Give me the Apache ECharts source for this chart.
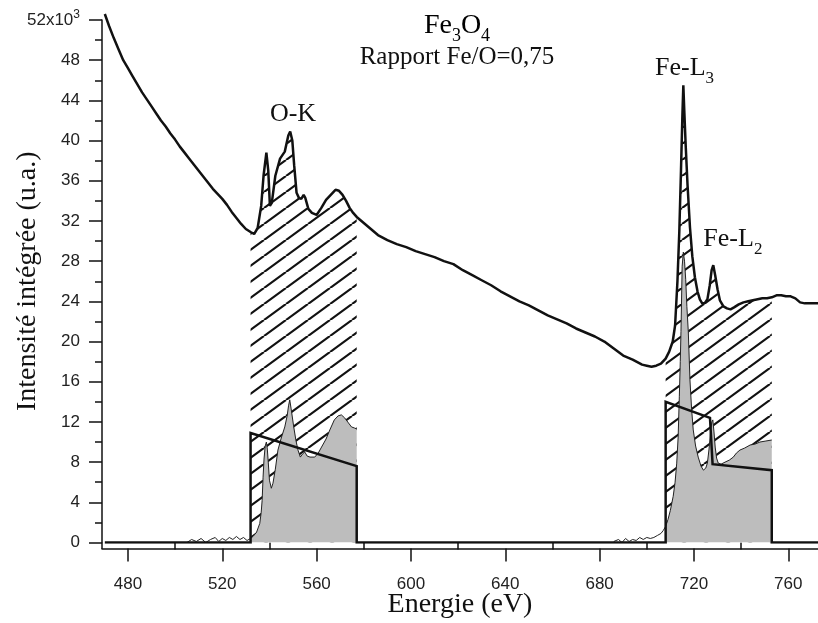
<!DOCTYPE html>
<html>
<head>
<meta charset="utf-8">
<script src="https://cdn.jsdelivr.net/npm/echarts@6/dist/echarts.min.js"></script>
<style>html,body{margin:0;padding:0;background:#fff}#chart{width:818px;height:623px}</style>
</head>
<body>
<div id="chart"></div>
<script>
// ---------------- data ----------------
const energyMin = 469, energyMax = 772.6;
const intensityMax = 52;
const xMajorTicks = [480, 520, 560, 600, 640, 680, 720, 760];
const xMinorTicks = [500, 540, 580, 620, 660, 700, 740];

// raw spectrum [energy eV, intensity x1e3]
const spectrum = [
  [470.2,52.6],[472,51.4],[474,50.2],[476,49.1],[478,48.0],[480,47.2],[482,46.4],[484,45.6],[486,44.8],[488,44.1],
  [490,43.4],[492,42.7],[494,42.0],[496,41.4],[498,40.7],[500,40.1],[502,39.4],[504,38.8],[506,38.2],[508,37.6],
  [510,37.0],[512,36.4],[514,35.8],[516,35.2],[518,34.7],[520,34.2],[522,33.6],[524,32.9],[526,32.3],[528,31.7],
  [530,31.2],[532,30.9],[533.5,30.7],[535,31.3],[536.5,33.5],[537.5,36.5],[538.7,38.8],[539.5,37.0],[540.2,33.5],
  [541,33.8],[542.5,36.5],[544.5,38.2],[546.5,38.9],[548,40.5],[548.8,40.9],[549.7,40.0],[550.5,37.5],[551.5,34.8],
  [552.5,34.3],[553.5,34.2],[554.5,34.6],[555.2,34.3],[556.5,33.2],[558,32.8],[560,32.6],[562,33.3],[564,34.1],
  [566,34.6],[568,35.1],[569.5,35.0],[571,34.6],[572.5,34.0],[574,33.3],[575.5,32.8],[577,32.4],[579,32.0],
  [582,31.4],[586,30.6],[590,30.1],[594,29.7],[598,29.4],[602,29.0],[606,28.7],[610,28.4],[614,28.0],[618,27.7],
  [622,27.1],[626,26.6],[630,26.1],[634,25.6],[638,25.0],[642,24.5],[646,24.0],[650,23.6],[654,23.1],[658,22.6],
  [662,22.2],[666,21.8],[670,21.3],[674,20.9],[678,20.5],[682,20.0],[686,19.3],[690,18.6],[694,18.2],[698,17.7],
  [700,17.6],[702,17.5],[704,17.6],[706,17.8],[708,18.3],[709.5,19.0],[711,20.0],[712,21.6],[713,26.0],[713.8,31.0],
  [714.5,37.0],[715.1,42.5],[715.5,45.5],[715.9,43.0],[716.5,39.5],[717.3,35.5],[718.3,31.4],[719.3,28.5],[720.4,26.4],
  [721.5,25.0],[722.5,24.2],[723.5,23.8],[724.5,23.8],[725.7,24.2],[726.7,25.6],[727.5,27.1],[728.2,27.6],[729,26.6],
  [730,25.2],[731,24.1],[732.5,23.5],[734,23.3],[735.5,23.2],[737,23.4],[739,23.7],[741,23.9],[743,24.0],[745,24.1],
  [747,24.2],[749,24.3],[751,24.3],[753,24.4],[755,24.6],[757,24.6],[759,24.5],[761,24.5],[763,24.3],[765,23.9],
  [767,23.8],[769,23.8],[771,23.8],[772.6,23.8]
];

// background-subtracted O-K signal
const signalO = [
  [505,0.0],[507,0.3],[509,0.1],[511,0.4],[513,0.0],[515,0.3],[517,0.5],[518.5,0.1],[520,0.4],[521.5,0.2],
  [523,0.5],[524.5,0.3],[526,0.6],[527.5,0.3],[529,0.5],[530.5,0.2],[532,0.4],[533,0.6],[534.5,1.0],[535.9,1.9],
  [536.5,3.0],[536.9,4.2],[537.3,6.5],[537.7,8.3],[538.2,9.6],[538.7,10.0],[539.1,9.3],[539.5,8.0],[540,6.2],
  [540.8,5.4],[541.5,5.9],[542.5,7.3],[543.6,9.2],[545,10.4],[546.5,11.5],[547.5,12.6],[548.1,13.6],[548.6,14.2],
  [549.2,13.3],[550.3,11.5],[551.2,10.2],[552.1,9.2],[553.1,8.5],[554,8.8],[555,9.0],[556,8.6],[557.2,8.5],
  [559.2,8.5],[560.7,8.9],[562.1,9.5],[564,10.3],[565.6,11.2],[567.5,12.2],[569.1,12.6],[570.5,12.7],[571.9,12.4],
  [573.5,11.9],[574.8,11.5],[576,11.4],[577,11.3]
];

// background-subtracted Fe-L2,3 signal
const signalFe = [
  [686,0.1],[688,0.3],[689.5,0.0],[691,0.4],[692.5,0.1],[694,0.3],[695.5,0.2],[697,0.5],[698.5,0.3],[700,0.5],
  [701.5,0.4],[703,0.5],[704.5,0.7],[706,0.9],[707,1.2],[708,1.6],[709,2.3],[710,3.2],[711.2,4.6],[712,6.0],
  [712.7,7.9],[713.3,10.5],[713.8,14.5],[714.2,18.0],[714.5,21.0],[715,27.5],[715.5,28.9],[716,28.0],[716.5,26.2],
  [717,23.5],[717.6,21.0],[718.3,16.2],[719,13.3],[719.7,11.2],[720.7,9.6],[721.8,8.5],[723,7.6],[724,7.2],
  [725,7.4],[725.7,7.9],[726.4,9.3],[727.1,11.2],[727.6,12.0],[728,12.2],[728.5,11.0],[729,9.5],[729.6,8.4],
  [730.3,7.9],[731.5,7.8],[733.2,8.0],[735,8.2],[736.7,8.5],[738,8.9],[739.5,9.2],[741.5,9.4],[743.8,9.7],
  [746,9.8],[748,10.0],[750.5,10.1],[753,10.2]
];

// step model (thick black line)
const stepModel = [
  [470.2,0],[532,0],[532,10.9],[577,7.6],[577,0],[708,0],[708,14.0],[726.8,12.4],[727.9,7.8],[753,7.2],[753,0],[772.6,0]
];

const windowO = [532, 577];
const windowFe = [708, 753];

const annotations = [
  { text: '{m|O-K}', x: 550, y: 42.6 },
  { text: '{m|Fe-L}{s|3}', x: 716, y: 47.2 },
  { text: '{m|Fe-L}{s|2}', x: 736.5, y: 30.2 }
];

// ---------------- drawing ----------------
function inWindow(arr, w) { return arr.filter(p => p[0] >= w[0] && p[0] <= w[1]); }

function hatchCanvas() {
  const w = 22, h = 16;
  const c = document.createElement('canvas');
  c.width = w; c.height = h;
  const ctx = c.getContext('2d');
  ctx.fillStyle = '#fff';
  ctx.fillRect(0, 0, w, h);
  ctx.strokeStyle = '#111';
  ctx.lineWidth = 2.2;
  ctx.beginPath();
  for (const dx of [-w, 0, w]) { ctx.moveTo(dx, h); ctx.lineTo(dx + w, 0); }
  ctx.stroke();
  return c;
}
const hatch = { image: hatchCanvas(), repeat: 'repeat' };

const serif = "'Liberation Serif', 'Times New Roman', serif";
const sans = "'Liberation Sans', Arial, sans-serif";
const ink = '#111';
const gray = '#bdbdbd';

const chart = echarts.init(document.getElementById('chart'), null, { renderer: 'canvas' });

const subRich = (size) => ({
  m: { fontFamily: serif, fontSize: size, color: ink, opacity: 1, lineHeight: size + 2, verticalAlign: 'middle' },
  s: { fontFamily: serif, fontSize: Math.round(size * 0.65), color: ink, opacity: 1, lineHeight: Math.round(size * 0.65), padding: [20, 0, 0, 0], verticalAlign: 'middle' }
});

const option = {
  animation: false,
  backgroundColor: '#fff',
  grid: { left: 102, right: 0, top: 20, bottom: 80.5, containLabel: false, outerBoundsMode: 'none' },
  xAxis: [{
    type: 'value', min: energyMin, max: energyMax, position: 'bottom', offset: 6,
    axisLine: { show: true, onZero: false, lineStyle: { color: ink, width: 1.5 } },
    axisTick: { show: true, length: 13, customValues: xMajorTicks, lineStyle: { color: ink, width: 1.5 } },
    axisLabel: { customValues: xMajorTicks, margin: 27, fontSize: 17, fontFamily: sans, color: '#222' },
    splitLine: { show: false },
    name: 'Energie (eV)', nameLocation: 'middle', nameGap: 42, nameMoveOverlap: false,
    nameTextStyle: { fontFamily: serif, fontSize: 28, color: ink }
  }, {
    type: 'value', min: energyMin, max: energyMax, position: 'bottom', offset: 6,
    axisLine: { show: false },
    axisTick: { show: true, length: 7, customValues: xMinorTicks, lineStyle: { color: ink, width: 1.5 } },
    axisLabel: { show: false },
    splitLine: { show: false }
  }],
  yAxis: {
    type: 'value', min: 0, max: intensityMax, interval: 4,
    axisLine: { show: true, onZero: false, lineStyle: { color: ink, width: 1.5 } },
    axisTick: { show: true, length: 13, lineStyle: { color: ink, width: 1.5 } },
    minorTick: { show: true, splitNumber: 2, length: 7, lineStyle: { color: ink, width: 1.5 } },
    axisLabel: {
      margin: 22, fontSize: 17, fontFamily: sans, color: '#222',
      formatter: v => v === intensityMax ? '{b|52x10}{sup|3}' : String(v),
      rich: {
        b: { fontSize: 17, fontFamily: sans, color: '#222', lineHeight: 17, verticalAlign: 'middle' },
        sup: { fontSize: 12, fontFamily: sans, color: '#222', lineHeight: 12, padding: [0, 0, 10, 0], verticalAlign: 'middle' }
      }
    },
    splitLine: { show: false }, minorSplitLine: { show: false },
    name: 'Intensité intégrée (u.a.)', nameLocation: 'middle', nameRotate: 90, nameGap: 60, nameMoveOverlap: false,
    nameTextStyle: { fontFamily: serif, fontSize: 28, color: ink }
  },
  series: [
    { name: 'hatch O', type: 'line', data: inWindow(spectrum, windowO), symbol: 'none', silent: true,
      lineStyle: { width: 0, opacity: 0 }, areaStyle: { color: hatch, opacity: 1 }, z: 1 },
    { name: 'hatch Fe', type: 'line', data: inWindow(spectrum, windowFe), symbol: 'none', silent: true,
      lineStyle: { width: 0, opacity: 0 }, areaStyle: { color: hatch, opacity: 1 }, z: 1 },
    { name: 'signal O fill', type: 'line', data: inWindow(signalO, windowO), symbol: 'none', silent: true,
      lineStyle: { width: 0, opacity: 0 }, areaStyle: { color: gray, opacity: 1 }, z: 2 },
    { name: 'signal Fe fill', type: 'line', data: inWindow(signalFe, windowFe), symbol: 'none', silent: true,
      lineStyle: { width: 0, opacity: 0 }, areaStyle: { color: gray, opacity: 1 }, z: 2 },
    { name: 'signal O', type: 'line', data: signalO, symbol: 'none', silent: true,
      lineStyle: { color: '#222', width: 1 }, z: 3 },
    { name: 'signal Fe', type: 'line', data: signalFe, symbol: 'none', silent: true,
      lineStyle: { color: '#222', width: 1 }, z: 3 },
    { name: 'step', type: 'line', data: stepModel, symbol: 'none', silent: true,
      lineStyle: { color: ink, width: 2.5, join: 'miter' }, z: 4 },
    { name: 'spectre', type: 'line', data: spectrum, symbol: 'none', silent: true, clip: false,
      lineStyle: { color: ink, width: 2.5 }, z: 5 },
    { name: 'labels', type: 'scatter', symbolSize: 0, silent: true, z: 6,
      itemStyle: { opacity: 1, color: ink },
      data: annotations.map(a => ({ value: [a.x, a.y], label: { formatter: a.text } })),
      label: { show: true, position: 'inside', fontFamily: serif, fontSize: 26, color: ink, opacity: 1, rich: subRich(26) } }
  ],
  graphic: [
    { type: 'text', x: 457, y: 26, silent: true,
      style: { text: '{m|Fe}{s|3}{m|O}{s|4}', align: 'center', verticalAlign: 'middle', rich: subRich(28) } },
    { type: 'text', x: 457, y: 57, silent: true,
      style: { text: 'Rapport Fe/O=0,75', align: 'center', verticalAlign: 'middle', fontSize: 25, fontFamily: serif, fill: ink } }
  ]
};
chart.setOption(option);

// axis corner: extend y axis line down to the offset x axis
const p0 = chart.convertToPixel({ gridIndex: 0 }, [energyMin, 0]);
chart.setOption({ graphic: [ {}, {}, { type: 'line', silent: true,
  shape: { x1: p0[0], y1: p0[1], x2: p0[0], y2: p0[1] + 6.5 }, style: { stroke: ink, lineWidth: 1.5 } } ] });
</script>
</body>
</html>
